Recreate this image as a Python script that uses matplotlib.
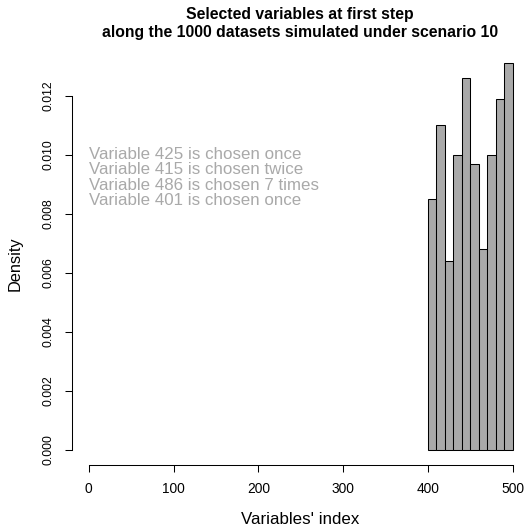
import numpy as np
import matplotlib
matplotlib.use("Agg")
import matplotlib.pyplot as plt

plt.rcParams['font.family'] = ['Liberation Sans', 'DejaVu Sans']

# histogram of the selected variable index (bins of width 10)
bin_edges = [400, 410, 420, 430, 440, 450, 460, 470, 480, 490, 500]
density = [0.0085, 0.0110, 0.0064, 0.0100, 0.0126, 0.0097, 0.0068, 0.0100, 0.0119, 0.0131]

# extra notes written on the plot
var_ids = [425, 415, 486, 401]
times_chosen = ["once", "twice", "7 times", "once"]

x_ticks = [0, 100, 200, 300, 400, 500]
y_ticks = [0.000, 0.002, 0.004, 0.006, 0.008, 0.010, 0.012]

FS = 12.2
W, H = 524, 527
fig = plt.figure(figsize=(W / 100, H / 100), dpi=100)
ax = fig.add_axes([71.7 / W, 62 / H, 458.1 / W, 417.2 / H])

widths = np.diff(bin_edges)
ax.bar(bin_edges[:-1], density, width=widths, align='edge',
       color='#A9A9A9', edgecolor='black', linewidth=0.75)

ymax = max(density)
ax.set_xlim(-20, 520)
ax.set_ylim(-0.04 * ymax, 1.04 * ymax)

for s in ['top', 'right']:
    ax.spines[s].set_visible(False)
ax.spines['left'].set_bounds(y_ticks[0], y_ticks[-1])
ax.spines['bottom'].set_bounds(x_ticks[0], x_ticks[-1])
for s in ['left', 'bottom']:
    ax.spines[s].set_linewidth(0.75)

ax.set_xticks(x_ticks)
ax.set_xticklabels([str(v) for v in x_ticks])
ax.set_yticks(y_ticks)
ax.set_yticklabels(["%.3f" % v for v in y_ticks], rotation=90, va='center')
ax.tick_params(axis='both', length=5.2, width=0.75)
ax.tick_params(axis='x', pad=7, labelsize=9.9)
ax.tick_params(axis='y', pad=7, labelsize=8.7)

# axis titles placed in figure pixels
fig.text(300 / W, 3.5 / H, "Variables' index", ha='center', va='baseline', fontsize=FS)
fig.text(15.5 / W, 1 - 264 / H, "Density", ha='center', va='center',
         rotation=90, fontsize=11.8)

fig.text(300 / W, 1 - 15 / H, "Selected variables at first step",
         ha='center', va='center', fontsize=11.3, fontweight='bold')
fig.text(300 / W, 1 - 32 / H, "along the 1000 datasets simulated under scenario 10",
         ha='center', va='center', fontsize=11.3, fontweight='bold')

for i, (v, t) in enumerate(zip(var_ids, times_chosen)):
    ax.annotate("Variable %d is chosen %s" % (v, t), xy=(0, 0.0100),
                xytext=(0, -i * 15.3 * 0.72), textcoords='offset points',
                ha='left', va='center', fontsize=FS, color='#A9A9A9')

fig.savefig("out.png", dpi=100)
